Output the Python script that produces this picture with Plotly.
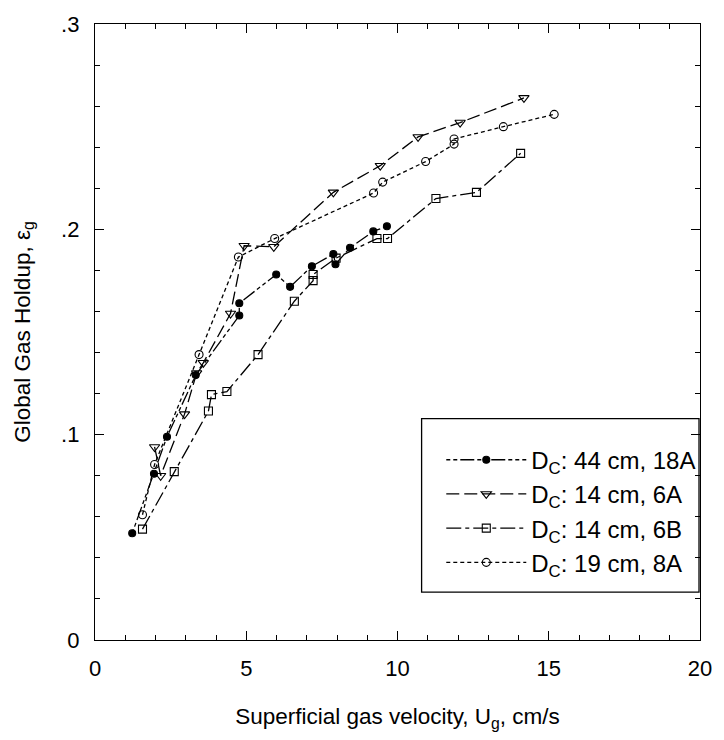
import plotly.graph_objects as go

# Data
ug_18A = [1.23, 1.95, 2.38, 3.33, 4.77, 4.77, 5.99, 6.45, 7.17, 7.88, 7.95, 8.43, 9.20, 9.65]
eg_18A = [0.052, 0.081, 0.099, 0.129, 0.158, 0.164, 0.178, 0.172, 0.182, 0.188, 0.183, 0.191, 0.199, 0.2015]

ug_6A = [1.97, 2.17, 2.96, 3.36, 3.58, 4.48, 4.93, 5.91, 7.88, 9.43, 10.68, 12.07, 14.18]
eg_6A = [0.094, 0.080, 0.110, 0.130, 0.135, 0.159, 0.192, 0.1915, 0.218, 0.231, 0.245, 0.252, 0.264]

ug_6B = [1.57, 2.62, 3.75, 3.85, 4.36, 5.39, 6.59, 7.21, 7.21, 7.97, 9.32, 9.67, 11.27, 12.61, 14.07]
eg_6B = [0.054, 0.082, 0.1115, 0.1195, 0.121, 0.139, 0.165, 0.175, 0.178, 0.186, 0.1955, 0.1955, 0.215, 0.218, 0.237]

ug_8A = [1.57, 1.97, 3.44, 4.74, 5.94, 9.21, 9.51, 10.93, 11.87, 11.87, 13.50, 15.18]
eg_8A = [0.061, 0.0855, 0.139, 0.1865, 0.1955, 0.2177, 0.223, 0.233, 0.2415, 0.244, 0.250, 0.256]

names = ["D<sub>C</sub>: 44 cm, 18A", "D<sub>C</sub>: 14 cm, 6A",
         "D<sub>C</sub>: 14 cm, 6B", "D<sub>C</sub>: 19 cm, 8A"]

x_ticks = [0, 5, 10, 15, 20]
x_ticktext = ["0", "5", "10", "15", "20"]
y_ticks = [0, 0.1, 0.2, 0.3]
y_ticktext = ["0", ".1", ".2", ".3"]

FONT = "Liberation Sans, Arial, Helvetica, sans-serif"
W, H = 724, 740
ML, MR, MT, MB = 95, 14, 22, 100

fig = go.Figure()
series = [
    (ug_18A, eg_18A, names[0], "circle", 7, "4px,3px,4px,3px,14px,3px"),
    (ug_6A, eg_6A, names[1], "triangle-down-open", 9, "13px,5px"),
    (ug_6B, eg_6B, names[2], "square-open", 8, "15px,4px,4px,4px"),
    (ug_8A, eg_8A, names[3], "circle-open", 8, "4px,3px"),
]
for xs, ys, nm, sym, sz, dash in series:
    fig.add_trace(go.Scatter(
        x=xs, y=ys, name=nm, mode="lines+markers",
        line=dict(color="black", width=1.3, dash=dash),
        marker=dict(symbol=sym, size=sz, color="black",
                    line=dict(color="black", width=1.1)),
    ))

axis_common = dict(
    showline=True, linecolor="black", linewidth=1.4, mirror="allticks",
    ticks="inside", ticklen=9, tickwidth=1.3, tickcolor="black",
    showgrid=False, zeroline=False,
    tickfont=dict(family=FONT, size=22, color="black"),
    tickmode="array",
)

fig.update_xaxes(
    range=[0, 20], tickvals=x_ticks, ticktext=x_ticktext,
    minor=dict(tickmode="linear", tick0=0, dtick=1, ticks="inside", ticklen=5,
               tickwidth=1.1, tickcolor="black", showgrid=False),
    title=dict(text="Superficial gas velocity, U<sub>g</sub>, cm/s",
               font=dict(family=FONT, size=22.5, color="black"), standoff=28),
    ticklabelstandoff=8,
    **axis_common,
)
fig.update_yaxes(
    range=[0, 0.3], tickvals=y_ticks, ticktext=y_ticktext,
    minor=dict(tickmode="linear", tick0=0, dtick=0.02, ticks="inside", ticklen=5,
               tickwidth=1.1, tickcolor="black", showgrid=False),
    title=dict(text="Global Gas Holdup, ε<sub>g</sub>",
               font=dict(family=FONT, size=22.5, color="black"), standoff=24),
    ticklabelstandoff=10,
    **axis_common,
)

pw = W - ML - MR
ph = H - MT - MB
def px2paper_x(p):
    return (p - ML) / pw
def px2paper_y(p):
    return (H - MB - p) / ph

fig.add_shape(type="rect", xref="paper", yref="paper",
              x0=px2paper_x(427), x1=px2paper_x(709),
              y0=px2paper_y(592), y1=px2paper_y(418),
              line=dict(color="black", width=1.3), fillcolor="white", layer="below")

fig.update_layout(
    width=W, height=H,
    margin=dict(l=ML, r=MR, t=MT, b=MB),
    paper_bgcolor="white", plot_bgcolor="rgba(0,0,0,0)",
    font=dict(family=FONT, color="black"),
    showlegend=True,
    legend=dict(
        x=px2paper_x(447), y=px2paper_y(437), xanchor="left", yanchor="top",
        bgcolor="rgba(0,0,0,0)", borderwidth=0,
        font=dict(family=FONT, size=24, color="black"),
        itemwidth=80, tracegroupgap=0,
    ),
)

fig.write_html("out.html")
